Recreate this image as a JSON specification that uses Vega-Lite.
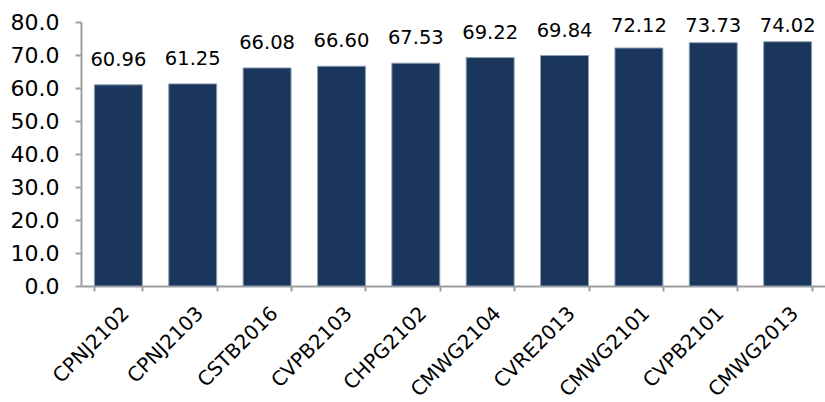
{
  "$schema": "https://vega.github.io/schema/vega-lite/v6.json",
  "width": 744,
  "height": 264,
  "autosize": "none",
  "padding": {"left": 81, "top": 22, "right": 0, "bottom": 116},
  "background": "white",
  "config": {"view": {"stroke": null}, "font": "DejaVu Sans"},
  "data": {
    "values": [
      {"code": "CPNJ2102", "value": 60.96},
      {"code": "CPNJ2103", "value": 61.25},
      {"code": "CSTB2016", "value": 66.08},
      {"code": "CVPB2103", "value": 66.60},
      {"code": "CHPG2102", "value": 67.53},
      {"code": "CMWG2104", "value": 69.22},
      {"code": "CVRE2013", "value": 69.84},
      {"code": "CMWG2101", "value": 72.12},
      {"code": "CVPB2101", "value": 73.73},
      {"code": "CMWG2013", "value": 74.02}
    ]
  },
  "transform": [{"calculate": "min(datum.value, 71.2)", "as": "labelPos"}],
  "encoding": {
    "x": {
      "field": "code",
      "type": "nominal",
      "sort": null,
      "scale": {"paddingInner": 0.355, "paddingOuter": 0.18},
      "axis": {
        "title": null,
        "labelAngle": -45,
        "labelFontSize": 20,
        "labelColor": "#000000",
        "labelPadding": 12,
        "labelOverlap": false,
        "tickBand": "extent",
        "tickSize": 5,
        "tickColor": "#9e9e9e",
        "tickWidth": 2,
        "domainColor": "#9e9e9e",
        "domainWidth": 2,
        "grid": false
      }
    }
  },
  "layer": [
    {
      "mark": {"type": "bar", "color": "#1a365d", "stroke": "#8fa0b5", "strokeWidth": 1},
      "encoding": {
        "y": {
          "field": "value",
          "type": "quantitative",
          "scale": {"domain": [0, 80], "nice": false},
          "axis": {
            "title": null,
            "values": [0, 10, 20, 30, 40, 50, 60, 70, 80],
            "format": ".1f",
            "labelFontSize": 22,
            "labelColor": "#000000",
            "labelPadding": 16,
            "labelOverlap": false,
            "labelBound": false,
            "labelFlush": false,
            "tickSize": 6,
            "tickColor": "#9e9e9e",
            "tickWidth": 2,
            "domainColor": "#9e9e9e",
            "domainWidth": 2,
            "grid": false
          }
        }
      }
    },
    {
      "mark": {"type": "text", "fontSize": 19.5, "color": "#000000", "baseline": "alphabetic", "dy": -19},
      "encoding": {
        "y": {
          "field": "labelPos",
          "type": "quantitative",
          "scale": {"domain": [0, 80], "nice": false},
          "axis": {
            "title": null,
            "values": [0, 10, 20, 30, 40, 50, 60, 70, 80],
            "format": ".1f",
            "labelFontSize": 22,
            "labelColor": "#000000",
            "labelPadding": 16,
            "labelOverlap": false,
            "labelBound": false,
            "labelFlush": false,
            "tickSize": 6,
            "tickColor": "#9e9e9e",
            "tickWidth": 2,
            "domainColor": "#9e9e9e",
            "domainWidth": 2,
            "grid": false
          }
        },
        "text": {"field": "value", "type": "quantitative", "format": ".2f"}
      }
    }
  ]
}
